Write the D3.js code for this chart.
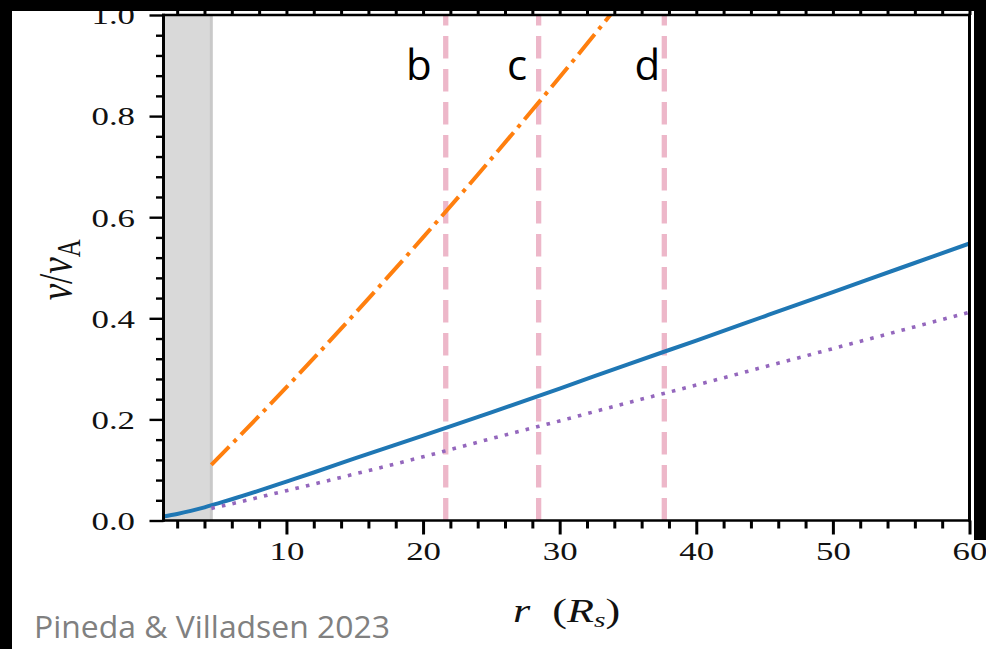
<!DOCTYPE html>
<html>
<head>
<meta charset="utf-8">
<script src="https://cdn.jsdelivr.net/npm/d3@7"></script>
<style>
  html, body { margin: 0; padding: 0; background: #000; }
  svg { display: block; }
</style>
</head>
<body>
<svg id="chart" width="986" height="649"></svg>
<script>
// Flow speed relative to the Alfvén speed versus heliocentric distance (solar radii)
const radiusBlue   = [1, 2, 3, 4, 5, 6, 8, 10, 12, 15, 20, 25, 30, 35, 40, 45, 50, 55, 60];
const speedBlue    = [0.008, 0.013, 0.019, 0.026, 0.034, 0.042, 0.059, 0.077, 0.095, 0.123, 0.168, 0.214, 0.261, 0.309, 0.356, 0.404, 0.452, 0.500, 0.548];

const radiusPurple = [4.5, 6, 8, 10, 12, 15, 20, 25, 30, 35, 40, 45, 50, 55, 60];
const speedPurple  = [0.024, 0.033, 0.046, 0.059, 0.072, 0.092, 0.126, 0.162, 0.197, 0.233, 0.268, 0.304, 0.340, 0.376, 0.412];

const radiusOrange = [4.5, 8, 12, 16, 20, 24, 28, 32, 34];
const speedOrange  = [0.110, 0.207, 0.321, 0.439, 0.560, 0.684, 0.812, 0.943, 1.010];

// shaded inner region and the three marked distances
const shadeRange    = [1, 4.5];
const markerRadii   = [21.66, 28.46, 37.66];
const markerNames   = ["b", "c", "d"];
const markerLabelR  = [19.7, 26.88, 36.42];

const xMajorTicks = [10, 20, 30, 40, 50, 60];
const yMajorTicks = [0.0, 0.2, 0.4, 0.6, 0.8, 1.0];
const yTickLabels = ["0.0", "0.2", "0.4", "0.6", "0.8", "1.0"];
const creditText  = "Pineda & Villadsen 2023";

const W = 986, H = 649;
const svg = d3.select("#chart");

svg.append("rect").attr("x", 0).attr("y", 0).attr("width", W).attr("height", H).attr("fill", "#fff");

const x = d3.scaleLinear().domain([1, 60]).range([163.5, 969.5]);
const y = d3.scaleLinear().domain([0, 1]).range([520.5, 15]);
const SX = 1.34;            // horizontal stretch of the figure's lettering
const serif = "'Liberation Serif', 'Times New Roman', serif";

svg.append("defs").append("clipPath").attr("id", "plotClip")
  .append("rect")
  .attr("x", x.range()[0]).attr("y", y.range()[1])
  .attr("width", x.range()[1] - x.range()[0])
  .attr("height", y.range()[0] - y.range()[1]);

const plot = svg.append("g").attr("clip-path", "url(#plotClip)");

// shaded region
plot.append("rect")
  .attr("x", x(shadeRange[0])).attr("y", y(1))
  .attr("width", x(shadeRange[1]) - x(shadeRange[0]))
  .attr("height", y(0) - y(1))
  .attr("fill", "#d9d9d9");
plot.append("line")
  .attr("x1", x(shadeRange[1])).attr("x2", x(shadeRange[1]))
  .attr("y1", y(0)).attr("y2", y(1))
  .attr("stroke", "#c9c9c9").attr("stroke-width", 3);

// marker lines
plot.selectAll("line.marker").data(markerRadii).enter().append("line")
  .attr("class", "marker")
  .attr("x1", d => x(d)).attr("x2", d => x(d))
  .attr("y1", y(0)).attr("y2", y(1))
  .attr("stroke", "#edb7c9").attr("stroke-width", 5.3)
  .attr("stroke-dasharray", "22.5,10.5");

const line = d3.line().x(d => x(d[0])).y(d => y(d[1])).curve(d3.curveMonotoneX);

plot.append("path")
  .datum(d3.zip(radiusOrange, speedOrange))
  .attr("d", line).attr("fill", "none")
  .attr("stroke", "#ff7f0e").attr("stroke-width", 4)
  .attr("stroke-dasharray", "25.6,6.4,4,6.4");

plot.append("path")
  .datum(d3.zip(radiusBlue, speedBlue))
  .attr("d", line).attr("fill", "none")
  .attr("stroke", "#1f77b4").attr("stroke-width", 4);

plot.append("path")
  .datum(d3.zip(radiusPurple, speedPurple))
  .attr("d", line).attr("fill", "none")
  .attr("stroke", "#9467bd").attr("stroke-width", 3.6)
  .attr("stroke-dasharray", "3.6,7.2");

// ticks
const xMinor = d3.range(2, 61, 2).filter(v => v % 10 !== 0);
const yMinor = d3.range(0.04, 1.0, 0.04).filter(v => Math.abs(v * 5 - Math.round(v * 5)) > 1e-6);

function styleTicks(g, w) {
  g.select(".domain").remove();
  g.selectAll(".tick line").attr("stroke", "#000").attr("stroke-width", w);
}

const xAxis = svg.append("g").attr("transform", `translate(0,${y(0)})`)
  .call(d3.axisBottom(x).tickValues(xMajorTicks).tickSize(14).tickSizeOuter(0).tickPadding(7).tickFormat(d3.format("d")));
styleTicks(xAxis, 3);
xAxis.selectAll(".tick text")
  .attr("font-family", serif).attr("font-size", 26).attr("fill", "#111")
  .attr("transform", `scale(${SX},1)`);

svg.append("g").attr("transform", `translate(0,${y(0)})`)
  .call(d3.axisBottom(x).tickValues(xMinor).tickSize(8).tickSizeOuter(0).tickFormat(""))
  .call(g => styleTicks(g, 3));

svg.append("g").attr("transform", `translate(0,${y(1)})`)
  .call(d3.axisTop(x).tickValues(xMajorTicks).tickSize(14).tickSizeOuter(0).tickFormat(""))
  .call(g => styleTicks(g, 3));
svg.append("g").attr("transform", `translate(0,${y(1)})`)
  .call(d3.axisTop(x).tickValues(xMinor).tickSize(8).tickSizeOuter(0).tickFormat(""))
  .call(g => styleTicks(g, 3));

const yAxis = svg.append("g").attr("transform", `translate(${x(1)},0)`)
  .call(d3.axisLeft(y).tickValues(yMajorTicks).tickSize(14).tickSizeOuter(0)
    .tickFormat((d, i) => yTickLabels[i]));
styleTicks(yAxis, 2.4);
yAxis.selectAll(".tick text")
  .attr("font-family", serif).attr("font-size", 26).attr("fill", "#111")
  .attr("x", -28.5 / SX).attr("dy", "0.34em")
  .attr("transform", `scale(${SX},1)`);

svg.append("g").attr("transform", `translate(${x(1)},0)`)
  .call(d3.axisLeft(y).tickValues(yMinor).tickSize(7.5).tickSizeOuter(0).tickFormat(""))
  .call(g => styleTicks(g, 2.4));

// frame
const frame = svg.append("g").attr("stroke", "#000");
frame.append("line").attr("x1", x(1)).attr("x2", x(1)).attr("y1", y(0) + 1.2).attr("y2", y(1) - 1.2).attr("stroke-width", 3);
frame.append("line").attr("x1", x(60)).attr("x2", x(60)).attr("y1", y(0) + 1.2).attr("y2", y(1) - 1.2).attr("stroke-width", 3);
frame.append("line").attr("x1", x(1) - 1.5).attr("x2", x(60) + 1.5).attr("y1", y(0)).attr("y2", y(0)).attr("stroke-width", 2.5);
frame.append("line").attr("x1", x(1) - 1.5).attr("x2", x(60) + 1.5).attr("y1", y(1)).attr("y2", y(1)).attr("stroke-width", 2.5);

// axis titles
const xTitle = svg.append("text")
  .attr("transform", `translate(${(x(1) + x(60)) / 2},622) scale(${SX},1)`)
  .attr("text-anchor", "middle")
  .attr("font-family", serif).attr("font-size", 33).attr("fill", "#111");
xTitle.append("tspan").attr("font-style", "italic").text("r\u2002");
xTitle.append("tspan").text("(");
xTitle.append("tspan").attr("font-style", "italic").text("R");
xTitle.append("tspan").attr("font-style", "italic").attr("font-size", 22).attr("dy", 5).text("s");
xTitle.append("tspan").attr("dy", -5).text(")");

const yTitle = svg.append("text")
  .attr("transform", `translate(72,${(y(0) + y(1)) / 2 + 2}) scale(${SX},1) rotate(-90)`)
  .attr("text-anchor", "middle")
  .attr("font-family", serif).attr("font-size", 37).attr("fill", "#111");
yTitle.append("tspan").attr("font-style", "italic").text("v");
yTitle.append("tspan").text("/");
yTitle.append("tspan").attr("font-style", "italic").text("v");
yTitle.append("tspan").attr("font-size", 25).attr("dy", 6).text("A");

// slide annotations
svg.selectAll("text.marker-label").data(markerNames).enter().append("text")
  .attr("class", "marker-label")
  .attr("x", (d, i) => x(markerLabelR[i])).attr("y", 80)
  .attr("text-anchor", "middle")
  .attr("font-family", "'Open Sans', sans-serif").attr("font-size", 42).attr("fill", "#000")
  .text(d => d);

// slide border
svg.append("rect").attr("x", 0).attr("y", 0).attr("width", W).attr("height", 11).attr("fill", "#000");
svg.append("rect").attr("x", 0).attr("y", 0).attr("width", 12).attr("height", H).attr("fill", "#000");
svg.append("rect").attr("x", 974).attr("y", 0).attr("width", 12).attr("height", 540).attr("fill", "#000");

svg.append("text")
  .attr("x", 34).attr("y", 638)
  .attr("font-family", "'Open Sans', sans-serif").attr("font-size", 31).attr("fill", "#808080")
  .attr("textLength", 356).attr("lengthAdjust", "spacingAndGlyphs")
  .text(creditText);
</script>
</body>
</html>
